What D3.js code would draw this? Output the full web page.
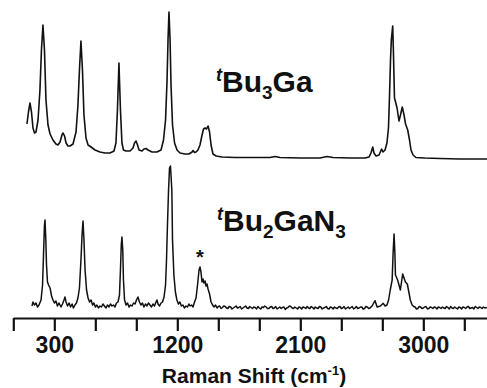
<!DOCTYPE html>
<html>
<head>
<meta charset="utf-8">
<script src="https://cdn.jsdelivr.net/npm/d3@7"></script>
<style>
  body { margin: 0; background: #fff; }
  svg { display: block; font-family: "Liberation Sans", Arial, sans-serif; font-weight: bold; }
</style>
</head>
<body>
<div id="chart"></div>
<script>
// axis ticks (cm-1)
const tickValues = [0, 300, 600, 900, 1200, 1500, 1800, 2100, 2400, 2700, 3000, 3300]
const tickLabels = [300, 1200, 2100, 3000]

// tBu3Ga spectrum: [Raman shift cm-1, intensity a.u.]
const tBu3Ga = [
  [100, 34], [111, 46], [122, 55], [133, 46], [144, 30], [155, 25], [166, 26], [181, 38],
  [195, 68], [206, 108], [217, 133], [228, 108], [239, 58], [254, 33], [269, 24], [290, 18],
  [312, 14], [327, 13], [342, 16], [356, 23], [364, 25], [375, 22], [386, 15], [400, 12],
  [415, 12], [437, 14], [459, 26], [473, 53], [484, 88], [495, 117], [506, 88], [517, 43],
  [532, 20], [547, 13], [569, 11], [598, 8], [634, 6], [671, 5], [708, 5], [737, 7],
  [751, 15], [762, 48], [773, 95], [784, 48], [795, 15], [806, 8], [825, 7], [854, 7],
  [876, 10], [887, 15], [898, 17], [909, 13], [920, 8], [942, 7], [956, 9], [971, 9.5],
  [986, 8], [1015, 6], [1051, 6], [1081, 8], [1099, 18], [1114, 38], [1125, 78], [1132, 118],
  [1139, 146], [1147, 118], [1154, 73], [1165, 33], [1180, 15], [1198, 8], [1220, 5], [1256, 4],
  [1286, 4], [1308, 6], [1315, 7.5], [1326, 5.5], [1337, 6], [1351, 8], [1366, 13], [1381, 23],
  [1392, 29], [1403, 30], [1414, 29], [1425, 32], [1436, 26], [1447, 13], [1461, 4], [1484, 2],
  [1527, 1], [1622, 0.5], [1769, 0.5], [1878, 0.5], [1915, 1.5], [1951, 0.5], [2098, 0], [2244, 0],
  [2295, 1.5], [2339, 0.5], [2464, 0], [2573, 0], [2603, 1], [2617, 5], [2630, 11], [2639, 5],
  [2654, 2], [2676, 3], [2695, 9], [2705, 6], [2720, 8], [2734, 15], [2745, 30], [2753, 63],
  [2760, 98], [2766, 118], [2776, 132], [2781, 108], [2789, 60], [2797, 56], [2808, 50], [2822, 37],
  [2833, 43], [2846, 51], [2859, 43], [2870, 34], [2886, 28], [2899, 18], [2910, 8], [2925, 3],
  [2946, 0.5], [3012, 0], [3122, -0.5], [3269, -1], [3466, -1]
]

// tBu2GaN3 spectrum: [Raman shift cm-1, intensity a.u.]
const tBu2GaN3 = [
  [137, 2], [144, 6], [155, 3], [166, 5], [177, 1], [188, 3], [203, 8], [214, 23],
  [221, 53], [228, 83], [232, 88], [238, 68], [243, 43], [250, 26], [258, 23], [269, 20],
  [280, 12], [290, 8], [301, 5], [312, 7], [323, 2], [334, 5], [349, 1], [360, 4],
  [371, 8], [378, 11], [386, 6], [397, 2], [408, 5], [419, 1], [430, 4], [440, 0],
  [451, 3], [462, 5], [473, 10], [484, 20], [495, 48], [503, 73], [510, 87], [517, 68],
  [525, 38], [536, 18], [547, 10], [558, 6], [569, 8], [580, 3], [590, 5], [601, 1],
  [612, 3], [623, 0], [634, 2], [645, 1], [656, 4], [667, 2], [678, 0], [689, 3],
  [700, 1], [711, 4], [722, 2], [733, 3], [744, 1], [755, 5], [766, 6], [777, 13],
  [784, 38], [790, 63], [795, 71], [801, 58], [806, 28], [814, 8], [825, 3], [836, 5],
  [847, 1], [858, 3], [869, 2], [880, 5], [891, 4], [901, 8], [912, 11], [923, 6],
  [934, 3], [945, 5], [956, 1], [967, 4], [978, 2], [989, 5], [1000, 3], [1011, 1],
  [1022, 4], [1033, 2], [1044, 6], [1051, 8], [1059, 4], [1070, 2], [1081, 5], [1092, 6],
  [1103, 11], [1114, 23], [1121, 48], [1128, 83], [1136, 118], [1143, 140], [1150, 142], [1160, 118],
  [1165, 68], [1175, 33], [1186, 16], [1197, 8], [1208, 4], [1219, 6], [1230, 2], [1241, 3],
  [1252, 0], [1263, 2], [1274, 1], [1285, 4], [1293, 2], [1304, 3], [1315, 1], [1326, 6],
  [1337, 10], [1348, 23], [1359, 38], [1366, 41], [1373, 36], [1381, 26], [1388, 29], [1395, 25],
  [1403, 27], [1410, 22], [1417, 24], [1425, 19], [1436, 14], [1447, 6], [1458, 3], [1469, 1],
  [1480, 3], [1491, 0], [1500, 1.5], [1510, 2], [1520, -0.5], [1530, 0.5], [1540, 2], [1550, 1.5],
  [1560, 0], [1570, -0.5], [1580, 1.5], [1590, 1], [1600, -1], [1610, 0], [1620, 1], [1630, 2],
  [1640, 0], [1650, 0.5], [1660, 1.5], [1670, -1], [1680, 0], [1690, 1], [1700, 2], [1710, 0],
  [1720, -0.5], [1730, 1.5], [1740, 0.5], [1750, -0.5], [1760, 1], [1770, 0.5], [1780, -1], [1790, 1.5],
  [1800, 0], [1810, -1], [1820, 1], [1830, 0.5], [1840, 2], [1850, 1], [1860, -0.5], [1870, -0.5],
  [1880, 1], [1890, 1.5], [1900, -0.5], [1910, 0], [1920, 1.5], [1930, -1], [1940, 0], [1950, 1],
  [1960, -0.5], [1970, 0.5], [1980, 1], [1990, -1.5], [2000, 0], [2010, 0.5], [2020, 2], [2030, 1.5],
  [2040, 0], [2050, -0.5], [2060, 1], [2070, 0], [2080, -1], [2090, 1], [2100, 0.5], [2110, -1],
  [2120, 1], [2130, 0.5], [2140, -0.5], [2150, 1.5], [2160, 0], [2170, -0.5], [2180, 1.5], [2190, 0.5],
  [2200, -1], [2210, 1], [2220, 0], [2230, -0.5], [2240, 1.5], [2250, 1], [2260, -1], [2270, 0],
  [2280, 0.5], [2290, 1.5], [2300, -0.5], [2310, -1], [2320, 1], [2330, 0.5], [2340, -1], [2350, 1],
  [2360, 0], [2370, -0.5], [2380, 1], [2390, 1.5], [2400, -0.5], [2410, 0], [2420, 1.5], [2430, -1],
  [2440, 0], [2450, 1], [2460, -0.5], [2470, 0.5], [2480, 1.5], [2490, -1], [2500, 0], [2510, 1.5],
  [2520, -0.5], [2530, 0], [2540, 1], [2550, 1], [2560, -1], [2570, -0.5], [2580, 1.5], [2590, 1],
  [2600, -0.5], [2610, 0], [2625, 2], [2647, 7.3], [2662, 1], [2686, 2], [2707, 4.7], [2720, 2],
  [2734, 3], [2746, 8], [2758, 18], [2772, 28], [2779, 55], [2786, 74], [2792, 55], [2796, 33],
  [2812, 28], [2832, 18], [2849, 34], [2869, 26], [2883, 24], [2905, 8], [2918, 3], [2930, 1.5],
  [2940, 1], [2950, -1], [2960, -0.5], [2970, 1.5], [2980, 1], [2990, -0.5], [3000, 0], [3010, 1],
  [3020, 1.5], [3030, -1], [3040, -0.5], [3050, 1], [3060, 0.5], [3070, -0.5], [3080, 1], [3090, 0.5],
  [3100, -1], [3110, 1], [3120, 0.5], [3130, -0.5], [3140, 1], [3150, 0], [3160, -0.5], [3170, 1.5],
  [3180, 0.5], [3190, -1], [3200, 1.5], [3210, 0], [3220, -0.5], [3230, 1], [3240, 0], [3250, -1],
  [3260, 1], [3270, 0.5], [3280, -1], [3290, 1], [3300, 0.5], [3310, -0.5], [3320, 1], [3330, 1.5],
  [3340, -0.5], [3350, 0], [3360, 0.5], [3370, -1], [3380, 1.5], [3390, 0.5], [3400, -0.5], [3410, 1],
  [3420, 0.5], [3430, -0.5], [3440, 1], [3450, 0], [3466, 0.5]
]

const width = 487
const height = 388
const axisY = 318

const x = d3.scaleLinear().domain([0, 3466]).range([13.3, 487])
const y = d3.scaleLinear().domain([0, 310]).range([axisY, 8])

// vertical stacking of the two traces
const topOffset = 160
const bottomOffset = 10

const svg = d3
  .select('#chart')
  .append('svg')
  .attr('width', width)
  .attr('height', height)

const line = (offset) =>
  d3
    .line()
    .x((d) => x(d[0]))
    .y((d) => y(d[1] + offset))

svg
  .append('path')
  .datum(tBu3Ga)
  .attr('fill', 'none')
  .attr('stroke', '#111')
  .attr('stroke-width', 1.6)
  .attr('stroke-linejoin', 'round')
  .attr('d', line(topOffset))

svg
  .append('path')
  .datum(tBu2GaN3)
  .attr('fill', 'none')
  .attr('stroke', '#111')
  .attr('stroke-width', 1.5)
  .attr('stroke-linejoin', 'round')
  .attr('d', line(bottomOffset))

// x axis
const axis = d3
  .axisBottom(x)
  .tickValues(tickValues)
  .tickSize(13)
  .tickSizeOuter(0)
  .tickPadding(6)
  .tickFormat((d) => (tickLabels.includes(d) ? d : ''))

const gx = svg.append('g').attr('transform', `translate(0,${axisY})`).call(axis)
gx.select('.domain').attr('stroke', '#111').attr('stroke-width', 2.2)
gx.selectAll('.tick line').attr('stroke', '#111').attr('stroke-width', 2.2)
gx.selectAll('.tick text')
  .attr('font-size', 23)
  .attr('font-weight', 'bold')
  .attr('font-family', '"Liberation Sans", Arial, sans-serif')
  .attr('fill', '#111')

// axis title
const title = svg
  .append('text')
  .attr('x', 254)
  .attr('y', 383)
  .attr('text-anchor', 'middle')
  .attr('font-size', 21)
  .attr('fill', '#111')
title.append('tspan').text('Raman Shift (cm')
title.append('tspan').attr('font-size', 13).attr('dy', -8).text('-1')
title.append('tspan').attr('dy', 8).text(')')

// compound labels
function compoundLabel(px, py, parts) {
  const t = svg
    .append('text')
    .attr('x', px)
    .attr('y', py)
    .attr('font-size', 30)
    .attr('fill', '#111')
  t.append('tspan').attr('font-style', 'italic').attr('font-size', 18).attr('dy', -11).text('t')
  let shift = -11
  parts.forEach((p) => {
    const dy = (p.sub ? 7 : 0) - shift
    shift = p.sub ? 7 : 0
    const s = t.append('tspan').attr('dy', dy).text(p.text)
    if (p.sub) s.attr('font-size', 19)
  })
}

compoundLabel(216, 92, [{ text: 'Bu' }, { text: '3', sub: true }, { text: 'Ga' }])
compoundLabel(217, 231, [
  { text: 'Bu' },
  { text: '2', sub: true },
  { text: 'GaN' },
  { text: '3', sub: true },
])

// asterisk over the band near 1366 cm-1
const starPeak = d3.greatest(
  tBu2GaN3.filter((d) => d[0] > 1300 && d[0] < 1450),
  (d) => d[1],
)
svg
  .append('text')
  .attr('x', x(starPeak[0]))
  .attr('y', y(starPeak[1] + bottomOffset) - 3)
  .attr('text-anchor', 'middle')
  .attr('font-size', 20)
  .attr('fill', '#111')
  .text('*')
</script>
</body>
</html>
